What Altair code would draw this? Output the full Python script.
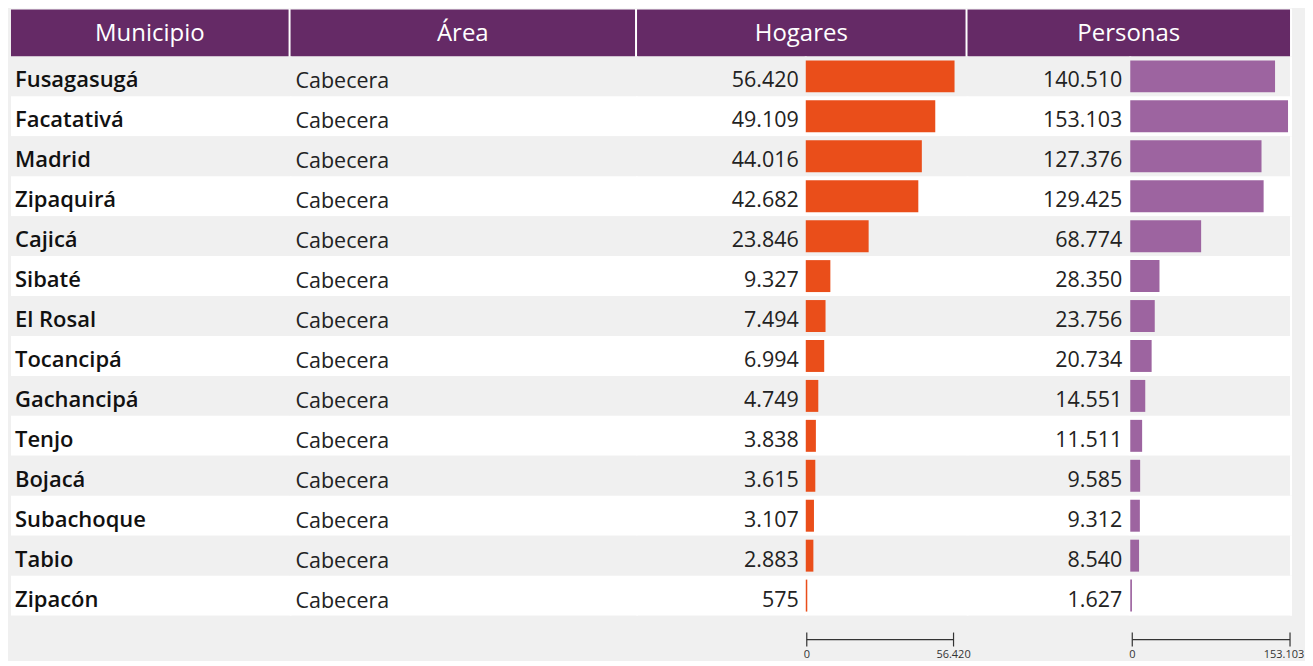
import altair as alt
import pandas as pd

# ---------------- data ----------------
MUNICIPIOS = ["Fusagasugá", "Facatativá", "Madrid", "Zipaquirá", "Cajicá", "Sibaté",
              "El Rosal", "Tocancipá", "Gachancipá", "Tenjo", "Bojacá", "Subachoque",
              "Tabio", "Zipacón"]
AREAS = ["Cabecera"] * 14
HOGARES = [56420, 49109, 44016, 42682, 23846, 9327, 7494, 6994, 4749, 3838, 3615, 3107, 2883, 575]
PERSONAS = [140510, 153103, 127376, 129425, 68774, 28350, 23756, 20734, 14551, 11511, 9585,
            9312, 8540, 1627]
COLUMNS = ["Municipio", "Área", "Hogares", "Personas"]


def fmt(v):
    return f"{v:,}".replace(",", ".")


df = pd.DataFrame({
    "municipio": MUNICIPIOS,
    "area": AREAS,
    "hogares": HOGARES,
    "personas": PERSONAS,
    "row": list(range(len(MUNICIPIOS))),
})
df["hog_lbl"] = [fmt(v) for v in HOGARES]
df["per_lbl"] = [fmt(v) for v in PERSONAS]

MAX_H = max(HOGARES)
MAX_P = max(PERSONAS)

# ---------------- style ----------------
BG = "#f0f0f0"
HEADER = "#652a66"
ORANGE = "#ea4e1a"
PURPLE = "#9d64a0"
FONT = "Open Sans"
BODY_H = 560
HEAD_H = 48
FOOT_H = 40

y_enc = alt.Y("municipio:N", sort=MUNICIPIOS,
              scale=alt.Scale(paddingInner=0, paddingOuter=0), axis=None)


def stripes(width, first=False):
    return alt.Chart(df).mark_rect().encode(
        y=y_enc,
        x=alt.value(0 if first else -1), x2=alt.value(width + 1),
        fill=alt.condition("datum.row % 2 == 1", alt.value("white"), alt.value(BG)),
    )


def text_panel(width, field, x, align, weight, color, size, dy, first=False):
    txt = alt.Chart(df).mark_text(
        align=align, baseline="middle", font=FONT, fontSize=size,
        fontWeight=weight, color=color, dy=dy
    ).encode(y=y_enc, x=alt.value(x), text=f"{field}:N")
    return alt.layer(stripes(width, first), txt).properties(width=width, height=BODY_H)


def bar_panel(width, field, maxv, rng, color, border=False):
    xs = alt.Scale(domain=[0, maxv], range=[0, rng], nice=False, zero=True)
    bar = alt.Chart(df).mark_bar(color=color, height={"band": 0.8}).encode(
        y=y_enc, x=alt.X(f"{field}:Q", scale=xs, axis=None))
    layers = [stripes(width if not border else width - 1), bar]
    if border:
        edge = alt.Chart(df).mark_rect(color="white").encode(
            y=y_enc, x=alt.value(width - 2), x2=alt.value(width))
        layers.append(edge)
    return alt.layer(*layers).properties(width=width, height=BODY_H)


def header_panel(width, title):
    hdf = pd.DataFrame({"t": [title]})
    inner = width - 2
    rect = alt.Chart(hdf).mark_rect(color=HEADER).encode(
        x=alt.value(0), x2=alt.value(inner), y=alt.value(1), y2=alt.value(HEAD_H))
    txt = alt.Chart(hdf).mark_text(
        font=FONT, fontSize=24, color="white", baseline="middle"
    ).encode(x=alt.value(inner / 2), y=alt.value(26), text="t:N")
    return alt.layer(rect, txt).properties(
        width=width, height=HEAD_H, view=alt.ViewBackground(fill="white", stroke=None))


def spacer(width, height):
    return alt.Chart(pd.DataFrame({"a": [0]})).mark_text(text="").encode(
        x=alt.value(1), y=alt.value(1)).properties(width=width, height=height)


def scale_panel(width, maxv, rng, max_dx):
    xs = alt.Scale(domain=[0, maxv], range=[0, rng], nice=False, zero=True)
    ldf = pd.DataFrame({"a": [0], "b": [maxv]})
    sdf = pd.DataFrame({"v": [0, maxv], "lbl": [fmt(0), fmt(maxv)]})
    line = alt.Chart(ldf).mark_rule(color="#333333", strokeWidth=1.2).encode(
        x=alt.X("a:Q", scale=xs, axis=None), x2="b:Q", y=alt.value(19))
    ticks = alt.Chart(sdf).mark_rule(color="#333333", strokeWidth=1.2).encode(
        x=alt.X("v:Q", scale=xs, axis=None), y=alt.value(12), y2=alt.value(26))
    lbl0 = alt.Chart(sdf.iloc[:1]).mark_text(
        font=FONT, fontSize=11, color="#333333", baseline="middle"
    ).encode(x=alt.X("v:Q", scale=xs, axis=None), y=alt.value(34), text="lbl:N")
    lblm = alt.Chart(sdf.iloc[1:]).mark_text(
        font=FONT, fontSize=11, color="#333333", baseline="middle", dx=max_dx
    ).encode(x=alt.X("v:Q", scale=xs, axis=None), y=alt.value(34), text="lbl:N")
    return alt.layer(line, ticks, lbl0, lblm).properties(width=width, height=FOOT_H)


# column widths (header): 280, 347, 331, 325
header_row = alt.hconcat(
    header_panel(280, COLUMNS[0]),
    header_panel(347, COLUMNS[1]),
    header_panel(331, COLUMNS[2]),
    header_panel(325, COLUMNS[3]),
    spacing=0, bounds="flush",
)

body_row = alt.hconcat(
    text_panel(280, "municipio", 4, "left", 600, "#111111", 22, 4, first=True),
    text_panel(347, "area", 5, "left", "normal", "#222222", 21.5, 6),
    text_panel(169, "hog_lbl", 162, "right", "normal", "#222222", 21.5, 5),
    bar_panel(162, "hogares", MAX_H, 149, ORANGE),
    text_panel(163, "per_lbl", 155, "right", "normal", "#222222", 21.5, 5),
    bar_panel(162, "personas", MAX_P, 158, PURPLE, border=True),
    spacing=0, bounds="flush",
)

footer_row = alt.hconcat(
    spacer(797, FOOT_H),
    scale_panel(161, MAX_H, 147, 0),
    spacer(165, FOOT_H),
    scale_panel(160, MAX_P, 158, -6),
    spacing=0, bounds="flush",
)

chart = alt.vconcat(
    header_row, body_row, footer_row, spacing=0
).properties(
    padding={"left": 3, "top": 0, "right": 0, "bottom": 0},
    background=BG,
).configure_view(stroke=None)

chart.save("out.html", embed_options={"renderer": "svg", "actions": False})
